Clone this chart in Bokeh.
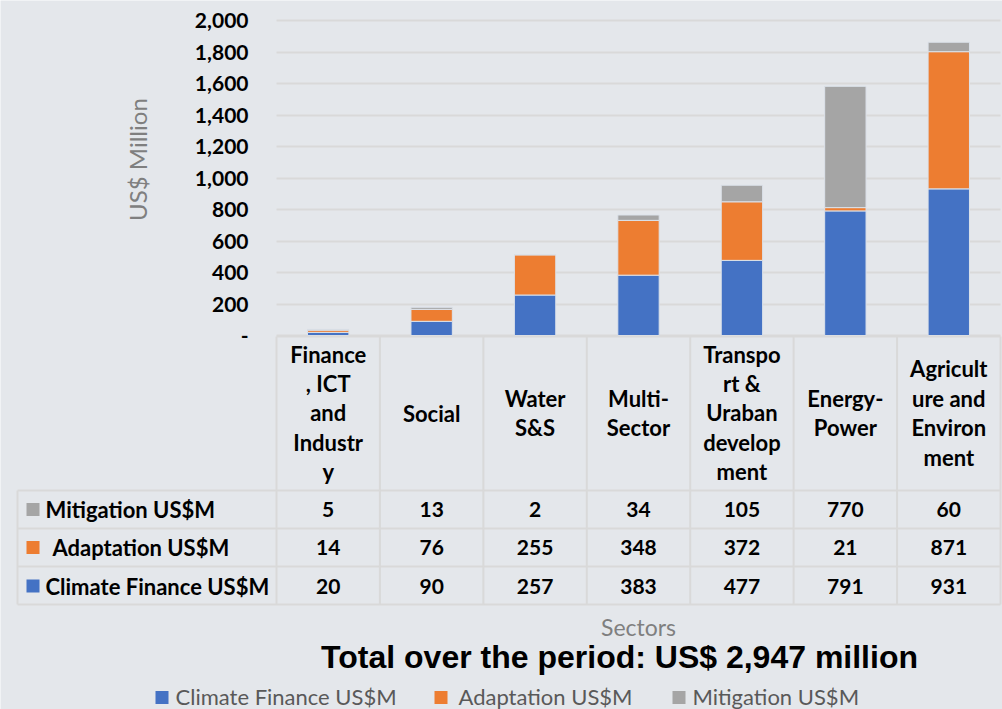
import math
from bokeh.plotting import figure
from bokeh.models import Range1d, NumeralTickFormatter, FixedTicker, ColumnDataSource, LinearAxis, Grid
from bokeh.core.properties import value
from bokeh.embed import file_html
from bokeh.resources import INLINE

# ---------------- data ----------------
categories = ["Finance, ICT and Industry", "Social", "Water S&S", "Multi-Sector",
              "Transport & Uraban development", "Energy-Power", "Agriculture and Environment"]
header_labels = ["Finance\n, ICT\nand\nIndustr\ny", "Social", "Water\nS&S", "Multi-\nSector",
                 "Transpo\nrt &\nUraban\ndevelop\nment", "Energy-\nPower", "Agricult\nure and\nEnviron\nment"]
climate_finance = [20, 90, 257, 383, 477, 791, 931]
adaptation = [14, 76, 255, 348, 372, 21, 871]
mitigation = [5, 13, 2, 34, 105, 770, 60]
series_names = ["Climate Finance US$M", "Adaptation US$M", "Mitigation US$M"]
series_colors = ["#4472C4", "#ED7D31", "#A5A5A5"]
y_ticks = [0, 200, 400, 600, 800, 1000, 1200, 1400, 1600, 1800, 2000]
y_title = "US$  Million"
x_title = "Sectors"
total_title = "Total  over the period: US$ 2,947 million"

# ---------------- layout constants (pixels of the 1002x709 canvas) ----------------
BG = "#E4E7EB"
GRID = "#D9D9D9"
W, H = 1002, 709
PLOT_L, PLOT_R = 276, 1000      # plot-area left / right
PLOT_T, PLOT_B = 20, 335        # plot-area top / bottom
N = len(categories)
YMAX = y_ticks[-1]
CW = (PLOT_R - PLOT_L) / N


def rx(px):
    return (px - PLOT_L) / CW


def ry(py):
    return (PLOT_B - py) * YMAX / (PLOT_B - PLOT_T)


p = figure(width=W, height=H,
           x_range=Range1d(rx(0), rx(W)), y_range=Range1d(ry(H), ry(0)),
           output_backend="svg", toolbar_location=None,
           x_axis_location=None, y_axis_location=None,
           min_border_left=0, min_border_right=0, min_border_top=0, min_border_bottom=0,
           background_fill_color=BG, border_fill_color=BG, outline_line_color=None)
p.grid.visible = False

# ---------------- grid lines ----------------
try:
    grid = Grid(dimension=1, ticker=FixedTicker(ticks=y_ticks), grid_line_color=GRID,
                grid_line_width=2, cross_bounds=(0, N))
    p.add_layout(grid)
except Exception:
    p.segment(x0=[0] * len(y_ticks), y0=y_ticks, x1=[N] * len(y_ticks), y1=y_ticks,
              line_color=GRID, line_width=2)

# ---------------- bars ----------------
xs = [i + 0.5 for i in range(N)]
src = ColumnDataSource(dict(x=xs, cf=climate_finance, ad=adaptation, mi=mitigation))
p.vbar_stack(["cf", "ad", "mi"], x="x", width=0.4, source=src,
             fill_color=series_colors, line_color="#DCE2EA", line_width=1)

# ---------------- y axis ----------------
ya = LinearAxis(fixed_location=0, ticker=FixedTicker(ticks=y_ticks),
                formatter=NumeralTickFormatter(format="0,0"))
ya.major_label_overrides = {0: "-"}
ya.axis_line_color = None
ya.major_tick_line_color = None
ya.minor_tick_line_color = None
ya.major_tick_out = 0
ya.major_tick_in = 0
ya.major_label_standoff = 28
ya.major_label_text_font = "Lato"
ya.major_label_text_font_style = "bold"
ya.major_label_text_font_size = "21px"
ya.major_label_text_color = "black"
p.add_layout(ya, "left")

p.text(x=[rx(137)], y=[ry(156)], text=[y_title], angle=math.pi / 2,
       text_align="center", text_baseline="middle",
       text_font=value("Lato"), text_font_size="24px", text_color="#7F7F7F")

# ---------------- data table ----------------
row_bounds = [490, 528, 566, 604]
lab_left = rx(17)
hy = [ry(336)] + [ry(v) for v in row_bounds]
hx0 = [0] + [lab_left] * len(row_bounds)
p.segment(x0=hx0, y0=hy, x1=[N] * len(hy), y1=hy, line_color=GRID, line_width=2)
vx = list(range(N + 1)) + [lab_left]
vy0 = [ry(336)] * (N + 1) + [ry(490)]
p.segment(x0=vx, y0=vy0, x1=vx, y1=[ry(604)] * len(vx), line_color=GRID, line_width=2)

p.text(x=xs, y=[ry(412.5)] * N, text=header_labels, text_align="center", text_baseline="middle",
       text_font=value("Lato"), text_font_style="bold", text_font_size="22px",
       text_line_height=1.09, text_color="black")

row_series = [mitigation, adaptation, climate_finance]
row_names = [series_names[2], series_names[1], series_names[0]]
row_colors = [series_colors[2], series_colors[1], series_colors[0]]
row_y = [ry(509), ry(547), ry(585.5)]
row_text_x = [rx(45), rx(52), rx(45)]

p.scatter(x=[rx(32.5)] * 3, y=row_y, marker="square", size=13,
          fill_color=row_colors, line_color=None)
p.text(x=row_text_x, y=row_y, text=row_names, text_align="left", text_baseline="middle",
       text_font=value("Lato"), text_font_style="bold", text_font_size="22px", text_color="black")

vals_x, vals_y, vals_t = [], [], []
for ser, yy in zip(row_series, row_y):
    for i, v in enumerate(ser):
        vals_x.append(xs[i])
        vals_y.append(yy)
        vals_t.append(str(v))
p.text(x=vals_x, y=vals_y, text=vals_t, text_align="center", text_baseline="middle",
       text_font=value("Lato"), text_font_style="bold", text_font_size="21px", text_color="black")

# ---------------- axis title, total, legend ----------------
p.text(x=[N / 2], y=[ry(626)], text=[x_title], text_align="center", text_baseline="middle",
       text_font=value("Lato"), text_font_size="23px", text_color="#7F7F7F")

p.text(x=[rx(623.5)], y=[ry(656)], text=[total_title], text_align="center", text_baseline="middle",
       text_font=value("Liberation Sans"), text_font_style="bold", text_font_size="32px",
       text_color="black")

leg_sq = [rx(161.5), rx(440.5), rx(678.5)]
leg_tx = [rx(175), rx(458), rx(692)]
p.scatter(x=leg_sq, y=[ry(697)] * 3, marker="square", size=13, fill_color=series_colors, line_color=None)
p.text(x=leg_tx, y=[ry(696)] * 3, text=series_names, text_align="left", text_baseline="middle",
       text_font=value("Lato"), text_font_size="22px", text_color="#595959")

html = file_html(p, INLINE, title="Climate finance by sector")
open("out.html", "w").write(html)
